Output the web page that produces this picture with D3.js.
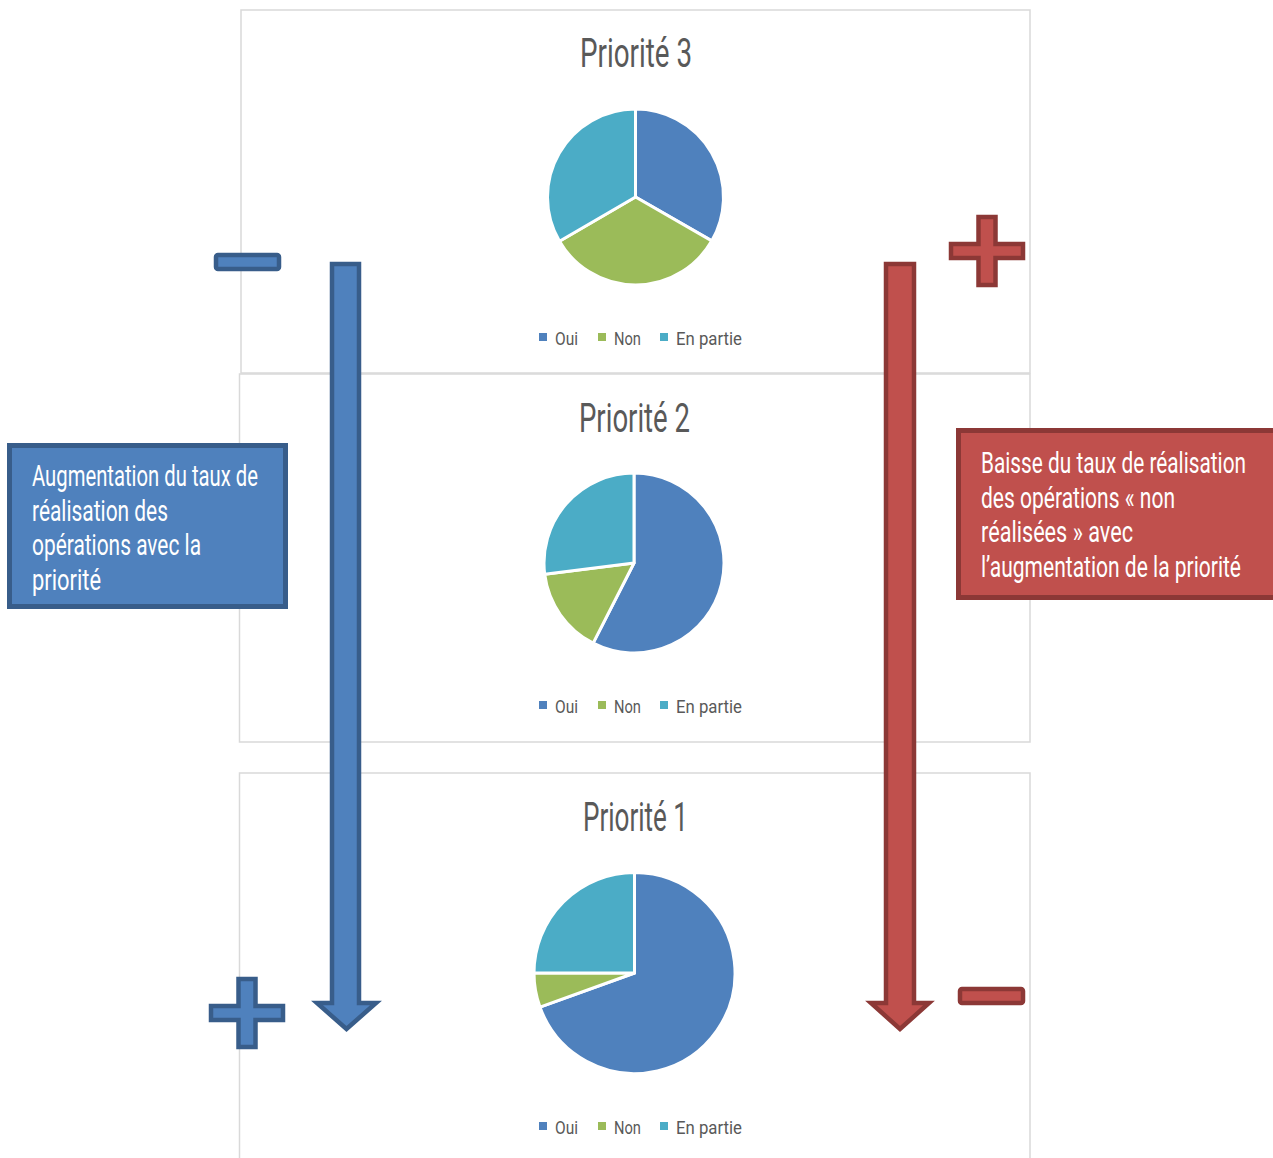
<!DOCTYPE html>
<html>
<head>
<meta charset="utf-8">
<script src="https://cdn.jsdelivr.net/npm/d3@7"></script>
<style>
  body { margin: 0; background: #fff; }
  svg text { font-family: "Roboto", "DejaVu Sans", sans-serif; }
</style>
</head>
<body>
<script>
// pie charts of realisation rate by priority

var categories = ["Oui", "Non", "En partie"];
var colors = ["#4f81bd", "#9bbb59", "#4bacc6"];
var titles = ["Priorité 3", "Priorité 2", "Priorité 1"];
var valuesP3 = [33.3, 33.3, 33.4];
var valuesP2 = [57.5, 15.5, 27];
var valuesP1 = [69.5, 5.5, 25];
var seriesValues = [valuesP3, valuesP2, valuesP1];

var blueLines = ["Augmentation du taux de", "réalisation des", "opérations avec la", "priorité"];
var redLines = ["Baisse du taux de réalisation", "des opérations « non", "réalisées » avec", "l’augmentation de la priorité"];

//rendered widths of the narrow font (the original face is not installed)
var titleWidths = [112, 111, 105];
var legendWidths = [23, 27, 66];
var blueWidths = [226, 136, 169, 69];
var redWidths = [265, 194, 152, 260];

var width = 1273, height = 1158;

var svg = d3.select("body").append("svg")
    .attr("width", width)
    .attr("height", height);

//squeeze a text to a given width
function fit(sel, w){
    sel.attr("textLength", w).attr("lengthAdjust", "spacingAndGlyphs");
}

//panel layout (x, y, w, h, pie centre, radius, title baseline, legend y)
var panels = [
    {x: 241, y: 10, w: 789, h: 363, cx: 635.5, cy: 197, r: 88, tx: 580, ty: 67, ly: 337},
    {x: 239.5, y: 374, w: 790.5, h: 368, cx: 634, cy: 563, r: 90, tx: 579, ty: 432, ly: 705},
    {x: 239.5, y: 773, w: 790.5, h: 400, cx: 634.5, cy: 973, r: 100.5, tx: 583, ty: 831, ly: 1126}
];

var color = d3.scaleOrdinal().domain(categories).range(colors);

panels.forEach(function(p, i){
    var g = svg.append("g");

    g.append("rect")
        .attr("x", p.x).attr("y", p.y)
        .attr("width", p.w).attr("height", p.h)
        .attr("fill", "#fff")
        .attr("stroke", "#d9d9d9")
        .attr("stroke-width", 1.5);

    g.append("text")
        .attr("x", p.tx).attr("y", p.ty)
        .attr("fill", "#595959")
        .attr("font-size", 40)
        .text(titles[i])
        .call(fit, titleWidths[i]);

    var arc = d3.arc().innerRadius(0).outerRadius(p.r);
    var data = seriesValues[i].map(function(v, k){ return {cat: categories[k], v: v}; });
    var arcs = d3.pie().sort(null).value(function(d){ return d.v; })(data);

    g.append("g")
        .attr("transform", "translate(" + p.cx + "," + p.cy + ")")
        .selectAll("path")
        .data(arcs)
        .enter()
        .append("path")
        .attr("d", arc)
        .attr("fill", function(d){ return color(d.data.cat); })
        .attr("stroke", "#fff")
        .attr("stroke-width", 3)
        .attr("stroke-linejoin", "round");

    //legend
    var legX = [539, 598, 660];
    var leg = g.selectAll(".leg")
        .data(categories)
        .enter()
        .append("g")
        .attr("transform", function(d, k){ return "translate(" + legX[k] + "," + p.ly + ")"; });
    leg.append("rect")
        .attr("x", 0).attr("y", -4)
        .attr("width", 8).attr("height", 8)
        .attr("fill", function(d){ return color(d); });
    leg.append("text")
        .attr("x", 16).attr("y", 8)
        .attr("fill", "#595959")
        .attr("font-size", 19)
        .text(function(d){ return d; })
        .each(function(d, k){ d3.select(this).call(fit, legendWidths[k]); });
});

//down arrow
function downArrow(x0, x1, hx0, hx1, y0, yb, tip){
    var cx = (hx0 + hx1) / 2;
    return "M" + x0 + "," + y0 + "L" + x1 + "," + y0 + "L" + x1 + "," + yb +
        "L" + hx1 + "," + yb + "L" + cx + "," + tip + "L" + hx0 + "," + yb +
        "L" + x0 + "," + yb + "Z";
}

function plus(cx, cy, aw, at, lw, lt){
    //aw: horizontal arm length, at: thickness, lw/lt vertical
    var h = at / 2, v = lt / 2;
    return "M" + (cx - v) + "," + (cy - lw / 2) + "H" + (cx + v) + "V" + (cy - h) +
        "H" + (cx + aw / 2) + "V" + (cy + h) + "H" + (cx + v) + "V" + (cy + lw / 2) +
        "H" + (cx - v) + "V" + (cy + h) + "H" + (cx - aw / 2) + "V" + (cy - h) + "H" + (cx - v) + "Z";
}

var blue = {fill: "#4f81bd", stroke: "#385d8a"};
var red = {fill: "#c0504d", stroke: "#8c3836"};

function shape(d, c){
    svg.append("path")
        .attr("d", d)
        .attr("fill", c.fill)
        .attr("stroke", c.stroke)
        .attr("stroke-width", 4.5)
        .attr("stroke-linejoin", "miter");
}

shape(downArrow(332, 359, 317, 376, 264, 1003, 1029), blue);
shape(downArrow(886, 914, 871, 929, 264, 1003, 1029), red);

//minus and plus signs
svg.append("rect").attr("x", 216).attr("y", 255).attr("width", 63).attr("height", 14)
    .attr("rx", 2).attr("fill", blue.fill).attr("stroke", blue.stroke).attr("stroke-width", 4.5);
shape(plus(247, 1013, 72, 14, 68, 17), blue);

svg.append("rect").attr("x", 960).attr("y", 989).attr("width", 63).attr("height", 14)
    .attr("rx", 2).attr("fill", red.fill).attr("stroke", red.stroke).attr("stroke-width", 4.5);
shape(plus(987, 251, 72, 14, 68, 17), red);

//text boxes
function textBox(x, y, w, h, c, lines, widths, tx, ty0){
    svg.append("rect")
        .attr("x", x).attr("y", y).attr("width", w).attr("height", h)
        .attr("fill", c.fill).attr("stroke", c.stroke).attr("stroke-width", 5);
    svg.append("g").selectAll("text")
        .data(lines)
        .enter()
        .append("text")
        .attr("x", tx)
        .attr("y", function(d, i){ return ty0 + i * 34.7; })
        .attr("fill", "#fff")
        .attr("font-size", 30)
        .text(function(d){ return d; })
        .each(function(d, i){ d3.select(this).call(fit, widths[i]); });
}

textBox(9.5, 445.5, 276, 161, blue, blueLines, blueWidths, 32, 486);
textBox(958.5, 430.5, 320, 167, red, redLines, redWidths, 981, 473);
</script>
</body>
</html>
